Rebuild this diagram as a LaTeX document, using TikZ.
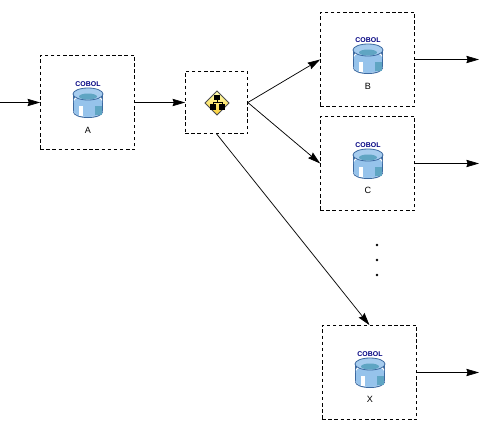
\documentclass[tikz,border=0pt]{standalone}
\usepackage{fontspec}
\setmainfont{Liberation Sans}
\usetikzlibrary{arrows.meta,positioning,calc}
\definecolor{cobolcol}{RGB}{0,0,128}
\definecolor{diskcol}{RGB}{150,195,235}
\definecolor{rimcol}{RGB}{60,105,160}
\definecolor{watercol}{RGB}{95,165,195}
\definecolor{gatecol}{RGB}{250,215,60}
\tikzset{
  % dashed frame
  framebox/.style={rectangle, draw=black, dash pattern=on 2.6pt off 2pt, line width=0.55pt,
                   minimum size=71pt, inner sep=0pt, outer sep=0pt},
  % small frame around the gate
  gatebox/.style={framebox, minimum size=47pt},
  % flow arrow
  flowarrow/.style={-{Stealth[length=9.5pt,width=5.5pt,inset=1pt]}, line width=0.55pt, black},
  % texts
  coboltext/.style={font=\fontsize{5.2}{6}\selectfont\bfseries, text=cobolcol, inner sep=0pt},
  boxtext/.style={font=\fontsize{6.8}{8}\selectfont, inner sep=0pt},
  % ellipsis dot
  dotnode/.style={circle, fill=black, inner sep=0pt, minimum size=2pt},
  % COBOL cylinder, origin in the middle of the icon
  cobolicon/.pic={
    % body
    \fill[rimcol] (0,9) ellipse[x radius=15,y radius=6];
    \fill[rimcol] (-15,-9) rectangle (15,9);
    % water behind the front wall
    \fill[white] (0,8.3) ellipse[x radius=14.3,y radius=5.6];
    \fill[white] (-14.3,-3) rectangle (14.3,8.3);
    \fill[white] (0,-3) ellipse[x radius=14.3,y radius=6];
    \fill[diskcol] (0,8.3) ellipse[x radius=14.3,y radius=5.6];
    \fill[diskcol] (-14.3,-1) rectangle (14.3,8.3);
    \fill[diskcol] (0,-1) ellipse[x radius=14.3,y radius=6];
    % highlight and shadow on the wall
    \fill[white] (-9,3) rectangle (-5,13);
    \fill[watercol] (7,3) rectangle (14.3,12);
    % top
    \fill[diskcol!85!white, draw=rimcol, line width=0.6pt] (0,-9) ellipse[x radius=15,y radius=6];
    \fill[watercol] (0,-6.5) ellipse[x radius=9,y radius=3];
  },
  % diamond icon with the small tree in it
  gateicon/.pic={
    \shade[top color=yellow!30!white, bottom color=gatecol!90!orange, draw=black!70, line width=0.7pt]
      (0,-12) -- (12,0) -- (0,12) -- (-12,0) -- cycle;
    \fill[black] (-3,-8) rectangle (3,-3);
    \fill[black] (-7,1) rectangle (-1,7);
    \fill[black] (2,1) rectangle (8,7);
    \draw[black, line width=0.6pt] (0,-3) -- (0,-1) (-4,1) -- (-4,-1) -- (5,-1) -- (5,1);
  },
}
\begin{document}
\begin{tikzpicture}[x=0.75pt,y=-0.75pt]
  \useasboundingbox (0,0) rectangle (479,432);

  % frames
  \node[framebox] (boxA) at (87.5,102.5) {};
  \node[gatebox] (gate) at (216.5,102.5) {};
  \node[framebox] (boxB) at (367.5,59.5) {};
  \node[framebox] (boxC) at (367.5,163.5) {};
  \node[framebox] (boxX) at (369.5,372.5) {};

  % icons
  \pic at (88,103) {cobolicon};
  \pic at (368,59) {cobolicon};
  \pic at (368,164) {cobolicon};
  \pic at (370,373) {cobolicon};
  \pic at (217,103) {gateicon};

  % texts
  \node[coboltext] (cobolA) at (88,84) {COBOL};
  \node[coboltext] (cobolB) at (368,40) {COBOL};
  \node[coboltext] (cobolC) at (368,145) {COBOL};
  \node[coboltext] (cobolX) at (370,354) {COBOL};
  \node[boxtext] (labelA) at (88,130) {A};
  \node[boxtext] (labelB) at (368,86) {B};
  \node[boxtext] (labelC) at (368,190) {C};
  \node[boxtext] (labelX) at (370,399) {X};

  % dots
  \node[dotnode] (dot1) at (377,245) {};
  \node[dotnode] (dot2) at (377,260) {};
  \node[dotnode] (dot3) at (377,275) {};

  % free ends
  \coordinate (inA) at (0,102.5);
  \coordinate (outB) at (479,59.5);
  \coordinate (outC) at (479,163.5);
  \coordinate (outX) at (479,372.5);

  % arrows
  \draw[flowarrow] (inA) -- (boxA.west);
  \draw[flowarrow] (boxA.east) -- (gate.west);
  \draw[flowarrow] (gate.east) -- (boxB.west);
  \draw[flowarrow] (gate.east) -- (boxC.west);
  \draw[flowarrow] (gate.south) -- (boxX.north);
  \draw[flowarrow] (boxB.east) -- (outB);
  \draw[flowarrow] (boxC.east) -- (outC);
  \draw[flowarrow] (boxX.east) -- (outX);
\end{tikzpicture}
\end{document}
